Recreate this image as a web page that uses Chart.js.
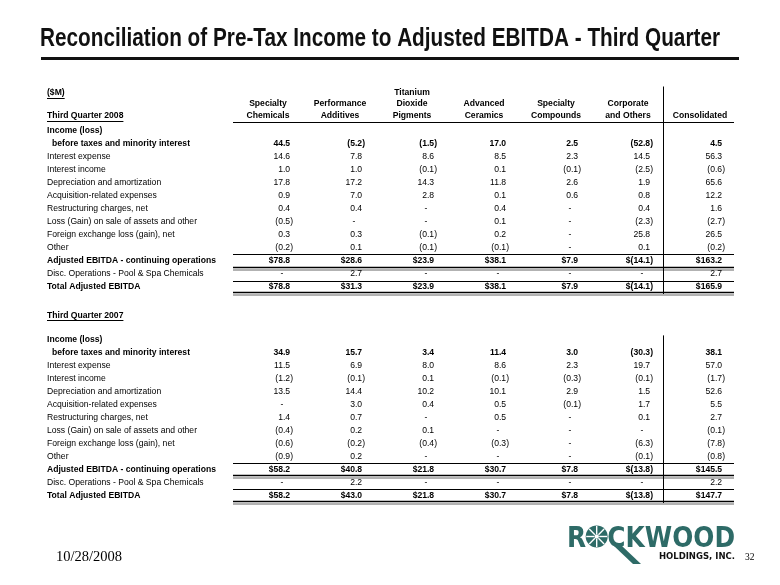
<!DOCTYPE html>
<html>
<head>
<meta charset="utf-8">
<script src="https://cdn.jsdelivr.net/npm/chart.js@4.4.0/dist/chart.umd.min.js"></script>
<style>
  html, body { margin: 0; padding: 0; background: #fff; }
</style>
</head>
<body>
<canvas id="reconChart" width="780" height="585"></canvas>
<script>
// segment columns, left to right
const columns = ['Specialty Chemicals', 'Performance Additives', 'Titanium Dioxide Pigments',
  'Advanced Ceramics', 'Specialty Compounds', 'Corporate and Others', 'Consolidated'];
const columnHeaders = [['Specialty', 'Chemicals'], ['Performance', 'Additives'], ['Titanium', 'Dioxide', 'Pigments'],
  ['Advanced', 'Ceramics'], ['Specialty', 'Compounds'], ['Corporate', 'and Others'], ['Consolidated']];

const rowLabels = ['before taxes and minority interest', 'Interest expense', 'Interest income',
  'Depreciation and amortization', 'Acquisition-related expenses', 'Restructuring charges, net',
  'Loss (Gain) on sale of assets and other', 'Foreign exchange loss (gain), net', 'Other',
  'Adjusted EBITDA - continuing operations', 'Disc. Operations - Pool & Spa Chemicals', 'Total Adjusted EBITDA'];
const boldRows = [0, 9, 11];
const dollarRows = [9, 11];

const sections = ['Third Quarter 2008', 'Third Quarter 2007'];

// $M, one array per row, columns as above (null shows as "-")
const q3_2008 = [
  [44.5, -5.2, -1.5, 17.0, 2.5, -52.8, 4.5],
  [14.6, 7.8, 8.6, 8.5, 2.3, 14.5, 56.3],
  [1.0, 1.0, -0.1, 0.1, -0.1, -2.5, -0.6],
  [17.8, 17.2, 14.3, 11.8, 2.6, 1.9, 65.6],
  [0.9, 7.0, 2.8, 0.1, 0.6, 0.8, 12.2],
  [0.4, 0.4, null, 0.4, null, 0.4, 1.6],
  [-0.5, null, null, 0.1, null, -2.3, -2.7],
  [0.3, 0.3, -0.1, 0.2, null, 25.8, 26.5],
  [-0.2, 0.1, -0.1, -0.1, null, 0.1, -0.2],
  [78.8, 28.6, 23.9, 38.1, 7.9, -14.1, 163.2],
  [null, 2.7, null, null, null, null, 2.7],
  [78.8, 31.3, 23.9, 38.1, 7.9, -14.1, 165.9]
];
const q3_2007 = [
  [34.9, 15.7, 3.4, 11.4, 3.0, -30.3, 38.1],
  [11.5, 6.9, 8.0, 8.6, 2.3, 19.7, 57.0],
  [-1.2, -0.1, 0.1, -0.1, -0.3, -0.1, -1.7],
  [13.5, 14.4, 10.2, 10.1, 2.9, 1.5, 52.6],
  [null, 3.0, 0.4, 0.5, -0.1, 1.7, 5.5],
  [1.4, 0.7, null, 0.5, null, 0.1, 2.7],
  [-0.4, 0.2, 0.1, null, null, null, -0.1],
  [-0.6, -0.2, -0.4, -0.3, null, -6.3, -7.8],
  [-0.9, 0.2, null, null, null, -0.1, -0.8],
  [58.2, 40.8, 21.8, 30.7, 7.8, -13.8, 145.5],
  [null, 2.2, null, null, null, null, 2.2],
  [58.2, 43.0, 21.8, 30.7, 7.8, -13.8, 147.7]
];
const sectionValues = [q3_2008, q3_2007];

const FONT = '"Liberation Sans", Arial, sans-serif';
const SERIF = '"Liberation Serif", "Times New Roman", serif';
const TEAL = '#2e6b67';
const GAP_ROWS = 4;
const SIZE = '8.6px ';

// y categories: the rows of both sections with a few empty rows between
const rowKey = (s, i) => sections[s] + ' | ' + rowLabels[i];
const rowKeys = [];
sections.forEach((sec, s) => {
  if (s > 0) for (let g = 0; g < GAP_ROWS; g++) rowKeys.push('gap ' + s + '.' + g);
  rowLabels.forEach((lbl, i) => rowKeys.push(rowKey(s, i)));
});
const sectionStart = s => s * (rowLabels.length + GAP_ROWS);

const datasets = [];
sections.forEach((sec, s) => {
  columns.forEach((col, c) => {
    datasets.push({
      label: sec + ' - ' + col,
      data: sectionValues[s].map((row, i) => ({ x: col, y: rowKey(s, i), v: row[c], row: i })),
      pointRadius: 0,
      showLine: false
    });
  });
});

function fmt(v, dollar) {
  if (v === null || v === undefined) return '-';
  const abs = Math.abs(v).toFixed(1);
  const s = v < 0 ? '(' + abs + ')' : abs;
  return dollar ? '$' + s : s;
}

function hline(ctx, x1, x2, y, w, color) {
  ctx.strokeStyle = color || '#000';
  ctx.lineWidth = w || 1;
  ctx.beginPath();
  ctx.moveTo(x1, y);
  ctx.lineTo(x2, y);
  ctx.stroke();
}

function underlined(ctx, text, x, y) {
  ctx.fillText(text, x, y);
  const w = ctx.measureText(text).width;
  hline(ctx, x, x + w, Math.round(y + 5) + 0.5, 1, '#000');
}

const tablePlugin = {
  id: 'tableText',
  afterDraw(chart) {
    const ctx = chart.ctx;
    const xs = chart.scales.x, ys = chart.scales.y;
    const labelX = 47;
    const colX = c => xs.getPixelForValue(c);
    const rowY = r => ys.getPixelForValue(r);
    const ruleL = colX(0) - 60, ruleR = colX(columns.length - 1) + 9;
    const vX = Math.round(colX(5) + 10) + 0.5;
    ctx.save();
    ctx.fillStyle = '#000';

    // title
    ctx.font = 'bold 25px ' + FONT;
    ctx.textBaseline = 'alphabetic';
    ctx.textAlign = 'left';
    const title = 'Reconciliation of Pre-Tax Income to Adjusted EBITDA - Third Quarter';
    const tw = ctx.measureText(title).width;
    ctx.save();
    ctx.translate(40, 46);
    ctx.scale(680 / tw, 1);
    ctx.fillStyle = '#111';
    ctx.fillText(title, 0, 0);
    ctx.restore();
    ctx.fillStyle = '#111';
    ctx.fillRect(41, 57, 698, 3);
    ctx.fillStyle = '#000';

    // column headers, bottom aligned
    const top0 = rowY(0);
    ctx.textBaseline = 'middle';
    ctx.font = 'bold ' + SIZE + FONT;
    ctx.textAlign = 'center';
    columnHeaders.forEach((lines, c) => {
      lines.forEach((ln, k) => {
        ctx.fillText(ln, colX(c) - 25, top0 - 28 - (lines.length - 1 - k) * 11.5);
      });
    });
    ctx.textAlign = 'left';
    underlined(ctx, '($M)', labelX, top0 - 51);
    hline(ctx, ruleL, ruleR, Math.round(top0 - 22) + 0.5, 1);

    sections.forEach((sec, s) => {
      const b = sectionStart(s);
      const y0 = rowY(b);
      ctx.font = 'bold ' + SIZE + FONT;
      ctx.textAlign = 'left';
      underlined(ctx, sec, labelX, s === 0 ? y0 - 28 : y0 - 37);
      ctx.fillText('Income (loss)', labelX, y0 - 12.5);
      rowLabels.forEach((lbl, i) => {
        ctx.font = (boldRows.includes(i) ? 'bold ' : '') + SIZE + FONT;
        ctx.fillText(lbl, i === 0 ? labelX + 5 : labelX, rowY(b + i));
      });

      // rules under the subtotal rows
      const mid = i => (rowY(b + i) + rowY(b + i + 1)) / 2;
      hline(ctx, ruleL, ruleR, Math.round(mid(8)) + 0.5, 1);
      hline(ctx, ruleL, ruleR, Math.round(mid(9)) - 0.5, 1.5);
      hline(ctx, ruleL, ruleR, Math.round(mid(9)) + 2, 1, '#666');
      hline(ctx, ruleL, ruleR, Math.round(mid(10)) + 0.5, 1);
      const yEnd = rowY(b + 11) + 5.5;
      hline(ctx, ruleL, ruleR, Math.round(yEnd) - 0.5, 1.5);
      hline(ctx, ruleL, ruleR, Math.round(yEnd) + 2, 1, '#666');

      // divider before the consolidated column
      ctx.strokeStyle = '#000';
      ctx.lineWidth = 1;
      ctx.beginPath();
      ctx.moveTo(vX, s === 0 ? top0 - 57 : y0 - 17);
      ctx.lineTo(vX, Math.round(yEnd) + 1);
      ctx.stroke();
    });

    // cell values, placed at the dataset points
    ctx.fillStyle = '#000';
    chart.data.datasets.forEach((ds, di) => {
      const meta = chart.getDatasetMeta(di);
      meta.data.forEach((pt, k) => {
        const d = ds.data[k];
        const bold = boldRows.includes(d.row);
        ctx.font = (bold ? 'bold ' : '') + SIZE + FONT;
        const paren = ctx.measureText(')').width;
        const txt = fmt(d.v, dollarRows.includes(d.row));
        if (d.v === null) {
          ctx.textAlign = 'center';
          ctx.fillText(txt, pt.x - 11, pt.y);
        } else {
          ctx.textAlign = 'right';
          ctx.fillText(txt, d.v < 0 ? pt.x : pt.x - paren, pt.y);
        }
      });
    });

    // footer
    ctx.textAlign = 'left';
    ctx.textBaseline = 'alphabetic';
    ctx.font = '14.5px ' + SERIF;
    ctx.fillText('10/28/2008', 56, 561);
    ctx.font = '9.5px ' + SERIF;
    ctx.fillText('32', 745, 560);

    // logo
    const lx = 567, lb = 547;
    ctx.fillStyle = TEAL;
    ctx.font = 'bold 29px "DejaVu Sans", sans-serif';
    const word = 'ROCKWOOD';
    const ww = ctx.measureText(word).width;
    const sx = 168 / ww;
    ctx.save();
    ctx.translate(lx, lb);
    ctx.scale(sx, 1);
    ctx.fillText('R', 0, 0);
    const rW = ctx.measureText('R').width;
    const oW = ctx.measureText('O').width;
    ctx.fillText('CKWOOD', rW + oW, 0);
    ctx.restore();
    // star-burst O
    const ocx = lx + (rW + oW / 2) * sx, ocy = lb - 10.5;
    ctx.beginPath();
    ctx.arc(ocx, ocy, 11, 0, Math.PI * 2);
    ctx.fill();
    ctx.strokeStyle = '#fff';
    ctx.lineWidth = 1.4;
    for (let a = 0; a < 8; a++) {
      const ang = a * Math.PI / 4;
      ctx.beginPath();
      ctx.moveTo(ocx + Math.cos(ang) * 2.5, ocy + Math.sin(ang) * 2.5);
      ctx.lineTo(ocx + Math.cos(ang) * 10.5, ocy + Math.sin(ang) * 10.5);
      ctx.stroke();
    }
    ctx.fillStyle = '#fff';
    ctx.beginPath();
    ctx.arc(ocx, ocy, 2.2, 0, Math.PI * 2);
    ctx.fill();
    // K leg running down
    ctx.fillStyle = TEAL;
    ctx.beginPath();
    ctx.moveTo(614, lb - 1);
    ctx.lineTo(622, lb - 1);
    ctx.lineTo(641, lb + 17);
    ctx.lineTo(633, lb + 17);
    ctx.closePath();
    ctx.fill();
    ctx.fillStyle = '#111';
    ctx.font = 'bold 8.5px "DejaVu Sans", sans-serif';
    ctx.textAlign = 'right';
    ctx.fillText('HOLDINGS, INC.', 735, lb + 12);

    ctx.restore();
  }
};

new Chart(document.getElementById('reconChart').getContext('2d'), {
  type: 'scatter',
  data: { datasets: datasets },
  options: {
    responsive: false,
    animation: false,
    events: [],
    layout: { padding: { left: 293, right: 55, top: 143.5, bottom: 89 } },
    scales: {
      x: { type: 'category', labels: columns, offset: false, display: false },
      y: { type: 'category', labels: rowKeys, offset: false, display: false }
    },
    plugins: {
      legend: { display: false },
      tooltip: { enabled: false }
    }
  },
  plugins: [tablePlugin]
});
</script>
</body>
</html>
